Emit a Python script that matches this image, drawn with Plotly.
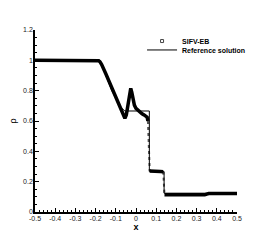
import plotly.graph_objects as go

# Numerical solution (SIFV-EB)
num_x = [-0.5, -0.4, -0.3, -0.2, -0.185, -0.178, -0.17, -0.15, -0.12, -0.1, -0.08, -0.065,
         -0.055, -0.048, -0.042, -0.036, -0.031, -0.026, -0.021, -0.015, -0.008, 0.0, 0.01,
         0.02, 0.03, 0.04, 0.05, 0.055, 0.059, 0.061, 0.063, 0.065, 0.068, 0.08, 0.1, 0.12,
         0.135, 0.137, 0.139, 0.141, 0.2, 0.3, 0.34, 0.35, 0.36, 0.4, 0.5]
num_rho = [1.0, 1.0, 1.0, 1.0, 0.998, 0.99, 0.972, 0.913, 0.82, 0.758, 0.697, 0.65,
           0.618, 0.64, 0.69, 0.75, 0.795, 0.815, 0.79, 0.745, 0.705, 0.683, 0.67,
           0.66, 0.648, 0.64, 0.63, 0.625, 0.6, 0.5, 0.4, 0.3, 0.27, 0.268, 0.267, 0.267,
           0.266, 0.2, 0.13, 0.113, 0.112, 0.112, 0.113, 0.118, 0.122, 0.122, 0.122]
# index ranges of the numerical data that lie inside the two jumps (contact, shock)
jump_ranges = [(28, 32), (36, 39)]

# Reference (exact) solution
ref_x = [-0.5, -0.178, -0.12, -0.075, -0.055, 0.066, 0.066, 0.139, 0.139, 0.5]
ref_rho = [1.0, 1.0, 0.8, 0.69, 0.666, 0.666, 0.266, 0.266, 0.124, 0.124]

x_ticks = [-0.5, -0.4, -0.3, -0.2, -0.1, 0, 0.1, 0.2, 0.3, 0.4, 0.5]
x_labels = ["-0.5", "-0.4", "-0.3", "-0.2", "-0.1", "0", "0.1", "0.2", "0.3", "0.4", "0.5"]
y_ticks = [0, 0.2, 0.4, 0.6, 0.8, 1.0, 1.2]
y_labels = ["0", "0.2", "0.4", "0.6", "0.8", "1", "1.2"]

FONT = "Liberation Sans, Arial, sans-serif"

# split numerical data: smooth parts (dense band) and jump parts (sparse points)
smooth_x, smooth_y, jump_x, jump_y = [], [], [], []
start = 0
for a, b in jump_ranges:
    smooth_x += num_x[start:a + 1] + [None]
    smooth_y += num_rho[start:a + 1] + [None]
    jump_x += num_x[a:b + 1] + [None]
    jump_y += num_rho[a:b + 1] + [None]
    start = b
smooth_x += num_x[start:]
smooth_y += num_rho[start:]

fig = go.Figure()
fig.add_trace(go.Scatter(
    x=jump_x, y=jump_y, mode="lines", showlegend=False, connectgaps=False,
    line=dict(color="#555", width=2, dash="dot"),
))
fig.add_trace(go.Scatter(
    x=smooth_x, y=smooth_y, mode="lines", showlegend=False, connectgaps=False,
    line=dict(color="black", width=3.5),
))
fig.add_trace(go.Scatter(
    x=[None], y=[None], mode="markers", name="SIFV-EB", legend="legend",
    marker=dict(symbol="square-open", size=3, color="#444", line=dict(width=1)),
))
fig.add_trace(go.Scatter(
    x=ref_x, y=ref_rho, mode="lines", name="Reference solution", legend="legend2",
    line=dict(color="black", width=1),
))

axis_common = dict(
    showline=True, linecolor="black", linewidth=1.5, mirror=False,
    ticks="inside", ticklen=4, tickwidth=1, tickcolor="black",
    showgrid=False, zeroline=False, automargin=False,
    tickfont=dict(family=FONT, size=7, color="#222"),
)
fig.update_xaxes(
    range=[-0.5, 0.5], tickvals=x_ticks, ticktext=x_labels,
    minor=dict(ticks="inside", ticklen=2, dtick=0.02, tickcolor="black", tickwidth=1),
    title=dict(text="<b>x</b>", font=dict(family=FONT, size=9, color="black"), standoff=0),
    ticklabelstandoff=-1,
    **axis_common,
)
fig.update_yaxes(
    range=[0, 1.2], tickvals=y_ticks, ticktext=y_labels,
    minor=dict(ticks="inside", ticklen=2, dtick=0.05, tickcolor="black", tickwidth=1),
    title=dict(text="ρ", font=dict(family=FONT, size=9, color="black"), standoff=6),
    ticklabelstandoff=-1,
    **axis_common,
)
leg_font = dict(family=FONT, size=7, color="black", weight="bold")
fig.update_layout(
    width=262, height=232,
    margin=dict(l=27, r=33, t=22, b=28),
    paper_bgcolor="white", plot_bgcolor="white",
    legend=dict(x=0.53, y=1.019, xanchor="left", yanchor="top", font=leg_font,
                bgcolor="rgba(0,0,0,0)", borderwidth=0, itemwidth=30, tracegroupgap=0),
    legend2=dict(x=0.53, y=0.970, xanchor="left", yanchor="top", font=leg_font,
                 bgcolor="rgba(0,0,0,0)", borderwidth=0, itemwidth=30, tracegroupgap=0),
)
fig.write_html("out.html")
